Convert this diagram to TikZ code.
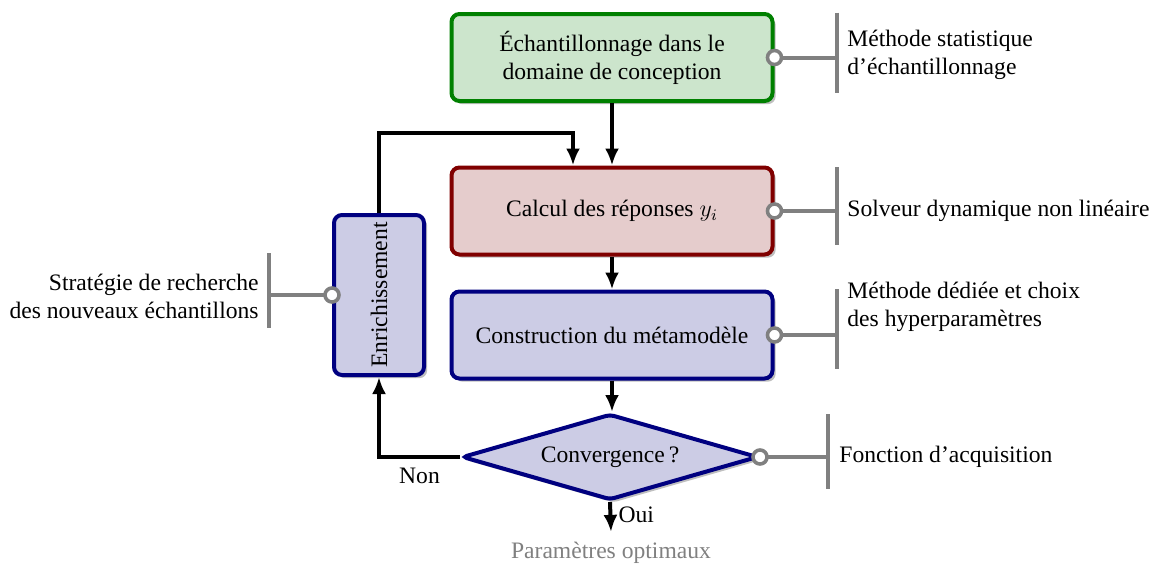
\documentclass[tikz,border=0pt]{standalone}
\usepackage{fontspec}
\setmainfont{Liberation Serif}
\usetikzlibrary{shapes.geometric,arrows.meta,shadows}
\definecolor{gborder}{rgb}{0,0.5,0}
\definecolor{gfill}{rgb}{0.8,0.9,0.8}
\definecolor{rborder}{rgb}{0.5,0,0}
\definecolor{rfill}{rgb}{0.9,0.8,0.8}
\definecolor{bborder}{rgb}{0,0,0.5}
\definecolor{bfill}{rgb}{0.8,0.8,0.9}
\definecolor{annot}{rgb}{0.5,0.5,0.5}
\begin{document}
\begin{tikzpicture}[x=0.5pt,y=-0.5pt,
  font=\fontsize{11.8}{14}\selectfont,
  shadowed/.style={drop shadow={shadow xshift=1.6pt,shadow yshift=-1.6pt,fill=black!25,opacity=1}},
  box/.style={draw, rounded corners=4pt, line width=2pt, minimum width=160.5pt,
    minimum height=43.5pt, align=center, inner sep=2pt, shadowed},
  enrbox/.style={draw=bborder, fill=bfill, rounded corners=4pt, line width=2pt,
    minimum width=45pt, minimum height=80pt, inner sep=0pt, shadowed},
  decision/.style={diamond, draw=bborder, fill=bfill, line width=2pt, rounded corners=2pt,
    minimum width=148pt, minimum height=43pt, inner sep=0pt, aspect=3.4, shadowed},
  arr/.style={line width=2pt, -{Latex[length=8.5pt,width=7pt]}},
  gline/.style={annot, line width=2pt},
  circ/.style={circle, draw=annot, fill=white, line width=1.8pt, minimum size=7pt, inner sep=0pt},
  note/.style={align=left, inner sep=0pt},
]
\useasboundingbox (0,0) rectangle (1152,568);

% main boxes
\node[box, draw=gborder, fill=gfill] (b1) at (612,57.5) {Échantillonnage dans le\\domaine de conception};
\node[box, draw=rborder, fill=rfill] (b2) at (612,211) {Calcul des réponses $y_i$};
\node[box, draw=bborder, fill=bfill] (b3) at (612,335) {Construction du métamodèle};
\node[enrbox] (enr) at (379,295) {\rotatebox{90}{Enrichissement}};
\node[decision] (conv) at (610,457) {Convergence\,?};
\node[text=annot, inner sep=0pt] (res) at (611,553) {Paramètres optimaux};

% flow arrows
\draw[arr] (b1) -- (b2);
\draw[arr] (b2) -- (b3);
\draw[arr] (b3.south) -- (b3.south |- conv.north);
\draw[arr] (conv.south) -- node[right, inner sep=1pt, xshift=2pt, yshift=1pt] (oui) {Oui} ([yshift=5pt]res.north);
\draw[arr] (conv.west) -| node[pos=0.25, below, yshift=-1pt] (non) {Non} (enr.south);
\coordinate (turn) at (573,133);
\draw[arr] (enr.north) |- (turn) -- (turn |- b2.north);

% annotations
\coordinate (t1) at (837,57.5);
\coordinate (t2) at (837,211);
\coordinate (t3) at (837,335);
\coordinate (t4) at (828,457);
\coordinate (t5) at (269,295);

\draw[gline] (b1.east) -- (t1);
\draw[gline] (b2.east) -- (t2);
\draw[gline] (b3.east) -- (t3);
\draw[gline] (conv.east) -- (t4);
\draw[gline] (enr.west) -- (t5);

\draw[gline] ([yshift=22.5pt]t1) -- ([yshift=-17.5pt]t1);
\draw[gline] ([yshift=22pt]t2) -- ([yshift=-17pt]t2);
\draw[gline] ([yshift=23pt]t3) -- ([yshift=-17pt]t3);
\draw[gline] ([yshift=21.5pt]t4) -- ([yshift=-16pt]t4);
\draw[gline] ([yshift=21pt]t5) -- ([yshift=-16.5pt]t5);

\node[circ] (c1) at (b1.east) {};
\node[circ] (c2) at (b2.east) {};
\node[circ] (c3) at (b3.east) {};
\node[circ] (c4) at (conv.east) {};
\node[circ] (c5) at (enr.west) {};

\node[note, anchor=west] (n1) at (847,55) {Méthode statistique\\d'échantillonnage};
\node[note, anchor=west] (n2) at (847,211) {Solveur dynamique non linéaire};
\node[note, anchor=west] (n3) at (847,307) {Méthode dédiée et choix\\des hyperparamètres};
\node[note, anchor=west] (n4) at (839,457) {Fonction d'acquisition};
\node[note, anchor=east, align=right] (n5) at (259,296) {Stratégie de recherche\\des nouveaux échantillons};
\end{tikzpicture}
\end{document}
